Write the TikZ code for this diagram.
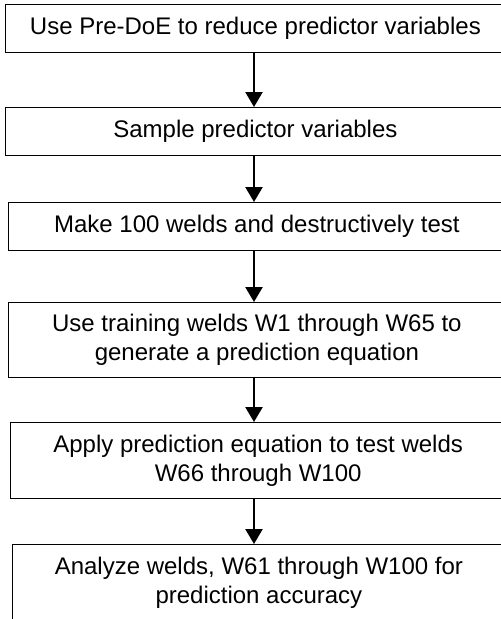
\documentclass[tikz,border=0pt]{standalone}
\usepackage{fontspec}
\setmainfont{Liberation Sans}
\usetikzlibrary{arrows.meta}
\begin{document}
\begin{tikzpicture}[x=1pt,y=-1pt,
  stepbox/.style={draw=black,line width=1.3pt,anchor=north west,inner sep=0pt,
    align=center,font=\fontsize{24}{29}\selectfont,fill=white},
  flow/.style={line width=2.4pt,-{Triangle[width=17pt,length=15pt]}}]
\useasboundingbox (0,0) rectangle (501,619);
\clip (0,0) rectangle (501,619);
\node[stepbox,minimum width=500.5pt,minimum height=48.5pt] (b1) at (4.5,3.5) {Use Pre-DoE to reduce predictor variables};
\node[stepbox,minimum width=500.5pt,minimum height=48pt] (b2) at (4.5,107) {Sample predictor variables};
\node[stepbox,minimum width=497.5pt,minimum height=48pt] (b3) at (7.5,202) {Make 100 welds and destructively test};
\node[stepbox,minimum width=497.5pt,minimum height=75pt] (b4) at (7.5,302) {Use training welds W1 through W65 to\\generate a prediction equation};
\node[stepbox,minimum width=495pt,minimum height=76pt] (b5) at (10,422) {Apply prediction equation to test welds\\W66 through W100};
\node[stepbox,minimum width=493.5pt,minimum height=76pt] (b6) at (11.5,544) {Analyze welds, W61 through W100 for\\prediction accuracy};
\coordinate (ax) at (254,0);
\draw[flow] (b1.south -| ax) -- (b2.north -| ax);
\draw[flow] (b2.south -| ax) -- (b3.north -| ax);
\draw[flow] (b3.south -| ax) -- (b4.north -| ax);
\draw[flow] (b4.south -| ax) -- (b5.north -| ax);
\draw[flow] (b5.south -| ax) -- (b6.north -| ax);
\end{tikzpicture}
\end{document}
